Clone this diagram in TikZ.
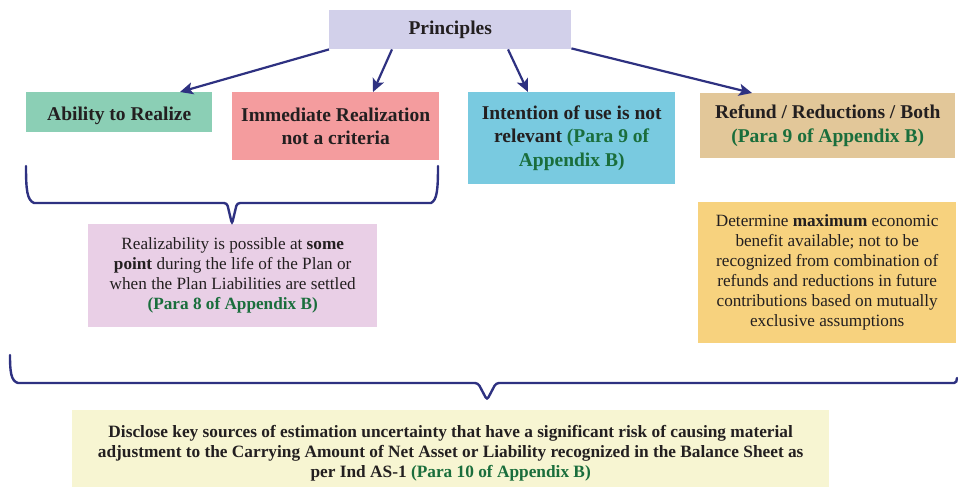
\documentclass[tikz,border=0pt]{standalone}
\usepackage{fontspec}
\setmainfont{Liberation Serif}
\usetikzlibrary{arrows.meta,calc}
\definecolor{navy}{HTML}{2E3181}
\definecolor{textc}{HTML}{231F20}
\definecolor{paragreen}{HTML}{1A6E3C}
\definecolor{cprin}{HTML}{D2D0EA}
\definecolor{cabil}{HTML}{8BCFB5}
\definecolor{cimm}{HTML}{F49C9E}
\definecolor{cint}{HTML}{79CAE0}
\definecolor{cref}{HTML}{E2C799}
\definecolor{creal}{HTML}{E9CFE6}
\definecolor{cdet}{HTML}{F7D27E}
\definecolor{cdisc}{HTML}{F7F5D2}
\newcommand{\para}[1]{\textcolor{paragreen}{\bfseries #1}}
\begin{document}
\begin{tikzpicture}[x=1pt,y=-1pt,
  box/.style={anchor=north west, inner sep=0pt, align=center, text=textc},
  head/.style={box, font=\fontsize{19.5}{23.5}\selectfont\bfseries},
  body/.style={box, font=\fontsize{17.2}{20}\selectfont},
  arr/.style={draw=navy, line width=2.2pt, -{Stealth[length=13pt,width=12pt,inset=3pt]}},
  brace/.style={draw=navy, line width=2.4pt, line cap=round}]
\useasboundingbox (0,0) rectangle (958,487);
\fill[white] (0,0) rectangle (958,487);

\node[head, fill=cprin, minimum width=242pt, minimum height=39pt] (pr) at (329,10) {Principles};
\node[head, fill=cabil, minimum width=186pt, minimum height=40pt, text height=18pt, text depth=2pt] (ab) at (26,92) {Ability to Realize};
\node[head, fill=cimm, minimum width=207pt, minimum height=68pt] (im) at (232,92) {Immediate Realization\\not a criteria};
\node[head, fill=cint, minimum width=207pt, minimum height=92pt] (in) at (468,92) {Intention of use is not\\relevant \para{(Para 9 of}\\\para{Appendix B)}};
\node[head, fill=cref, minimum width=255pt, minimum height=65pt] (rf) at (700,93) {Refund / Reductions / Both\\\para{(Para 9 of Appendix B)}};

\node[body, fill=creal, minimum width=289pt, minimum height=103pt] (rz) at (88,224) {Realizability is possible at \textbf{some}\\\textbf{point} during the life of the Plan or\\when the Plan Liabilities are settled\\\para{(Para 8 of Appendix B)}};
\node[body, fill=cdet, minimum width=258pt, minimum height=141pt] (dt) at (698,202) {Determine \textbf{maximum} economic\\benefit available; not to be\\recognized from combination of\\refunds and reductions in future\\contributions based on mutually\\exclusive assumptions};
\node[box, font=\fontsize{17.3}{20}\selectfont\bfseries, fill=cdisc, minimum width=757pt, minimum height=87pt] (ds) at (72,410) {Disclose key sources of estimation uncertainty that have a significant risk of causing material\\adjustment to the Carrying Amount of Net Asset or Liability recognized in the Balance Sheet as\\per Ind AS-1 \para{(Para 10 of Appendix B)}};

\draw[arr] (pr.south west) -- ([xshift=154pt]ab.north west);
\draw[arr] ([xshift=63pt]pr.south west) -- ([xshift=141pt]im.north west);
\draw[arr] ([xshift=179pt]pr.south west) -- ([xshift=60pt]in.north west);
\draw[arr] ([yshift=1pt]pr.south east) -- ([xshift=52pt]rf.north west);

% brace under Ability and Immediate
\coordinate (b1tip) at ([xshift=144pt]rz.north west);
\draw[brace] (26,166) .. controls (26,190) and (27,200) .. (34,203)
  [rounded corners=3pt] -- (227,203) -- (b1tip) -- (237,203)
  [sharp corners] -- (431,203) .. controls (437,200) and (438,190) .. (438,166);
% long brace
\coordinate (b2tip) at (487,400);
\draw[brace] (10,355) .. controls (10,372) and (11,381) .. (18,383)
  [rounded corners=3pt] -- (478,383) -- (b2tip) -- (496,383)
  [sharp corners] -- (954,383) .. controls (956,383) and (957,381) .. (957,378);
\end{tikzpicture}
\end{document}
